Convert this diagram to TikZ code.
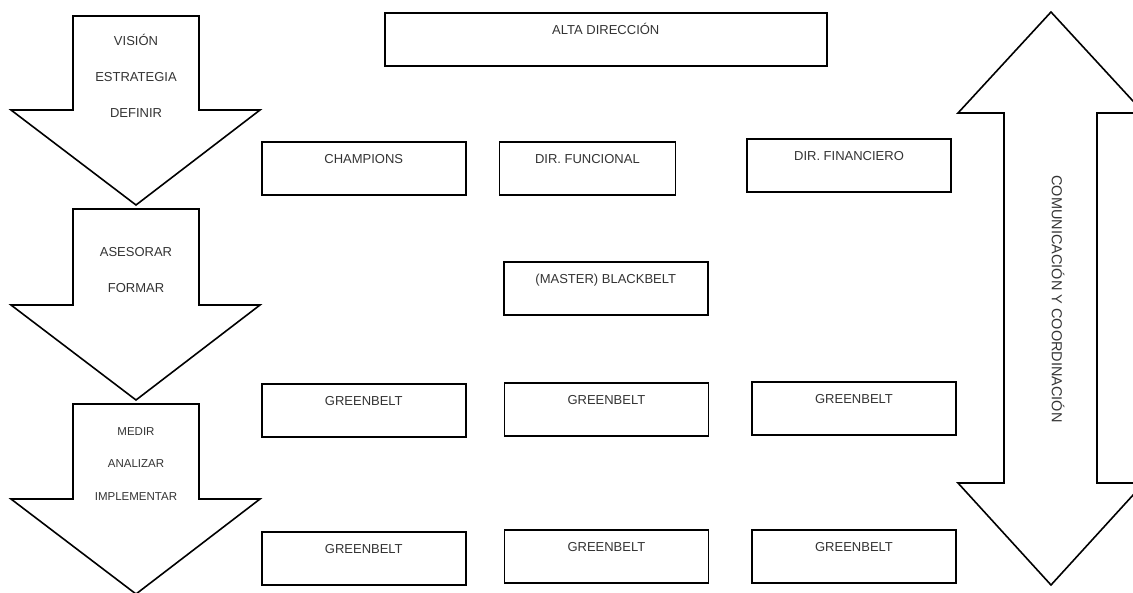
\documentclass[tikz,border=0pt]{standalone}
\usepackage{fontspec}
\setmainfont{Liberation Sans}
\usepackage{tikz}
\usetikzlibrary{positioning}
\tikzset{
  box/.style      = {rectangle, draw=black, line width=1.6pt, anchor=north west,
                     minimum width=204pt, minimum height=53pt,
                     inner ysep=4pt, text height=18pt, text depth=27pt,
                     text=black!80, font=\fontsize{13}{15}\selectfont},
  bigarrow/.style = {draw=black, line width=1.6pt, line join=miter},
  arrtext/.style  = {align=center, text=black!80,
                     font=\fontsize{13}{36}\selectfont},
}

\begin{document}
\begin{tikzpicture}[x=1pt, y=-1pt]
\useasboundingbox (0,0) rectangle (1133,592);

%% ── Left: process arrows ──────────────────────────────────
\draw[bigarrow] (73,16)  -- (199,16)  -- (199,110) -- (260,110) -- (136,205) -- (11,110) -- (73,110) -- cycle;
\draw[bigarrow] (73,209) -- (199,209) -- (199,305) -- (260,305) -- (136,400) -- (11,305) -- (73,305) -- cycle;
\draw[bigarrow] (73,404) -- (199,404) -- (199,499) -- (260,499) -- (136,594) -- (11,499) -- (73,499) -- cycle;

\node[arrtext] (vision) at (136,76) {VISIÓN\\ESTRATEGIA\\DEFINIR};
\node[arrtext] (asesor) at (136,270) {ASESORAR\\FORMAR};
\node[arrtext, font=\fontsize{11.5}{32.5}\selectfont] (medir) at (136,464)
  {MEDIR\\ANALIZAR\\IMPLEMENTAR};

%% ── Right: communication arrow ───────────────────────────
\draw[bigarrow] (1051,12) -- (1144,113) -- (1097,113) -- (1097,483) -- (1144,483)
  -- (1051,585) -- (958,483) -- (1004,483) -- (1004,113) -- (958,113) -- cycle;
\node[rotate=-90, text=black!80, font=\fontsize{14.5}{16}\selectfont] (comm)
  at (1058,299) {COMUNICACIÓN Y COORDINACIÓN};

%% ── Row 0: top management ────────────────────────────────
\node[box, minimum width=442pt] (alta) at (384,12) {ALTA DIRECCIÓN};

%% ── Row 1: champions and directors ───────────────────────
\node[box] (champ) at (261,141) {CHAMPIONS};
\node[box, minimum width=176pt, anchor=west, right=32pt of champ] (dirfun) {DIR. FUNCIONAL};
\node[box, anchor=west, right=70pt of dirfun, yshift=3pt] (dirfin) {DIR. FINANCIERO};

%% ── Row 2: black belt ────────────────────────────────────
\node[box] (black) at (503,261) {(MASTER) BLACKBELT};

%% ── Rows 3-4: green belts ────────────────────────────────
\node[box] (gba) at (261,383) {GREENBELT};
\node[box, anchor=west, right=37pt of gba, yshift=1pt] (gbb) {GREENBELT};
\node[box, anchor=west, right=42pt of gbb, yshift=1pt] (gbc) {GREENBELT};

\node[box] (gbd) at (261,531) {GREENBELT};
\node[box, anchor=west, right=37pt of gbd, yshift=2pt] (gbe) {GREENBELT};
\node[box, anchor=west, right=42pt of gbe] (gbf) {GREENBELT};

\end{tikzpicture}
\end{document}
